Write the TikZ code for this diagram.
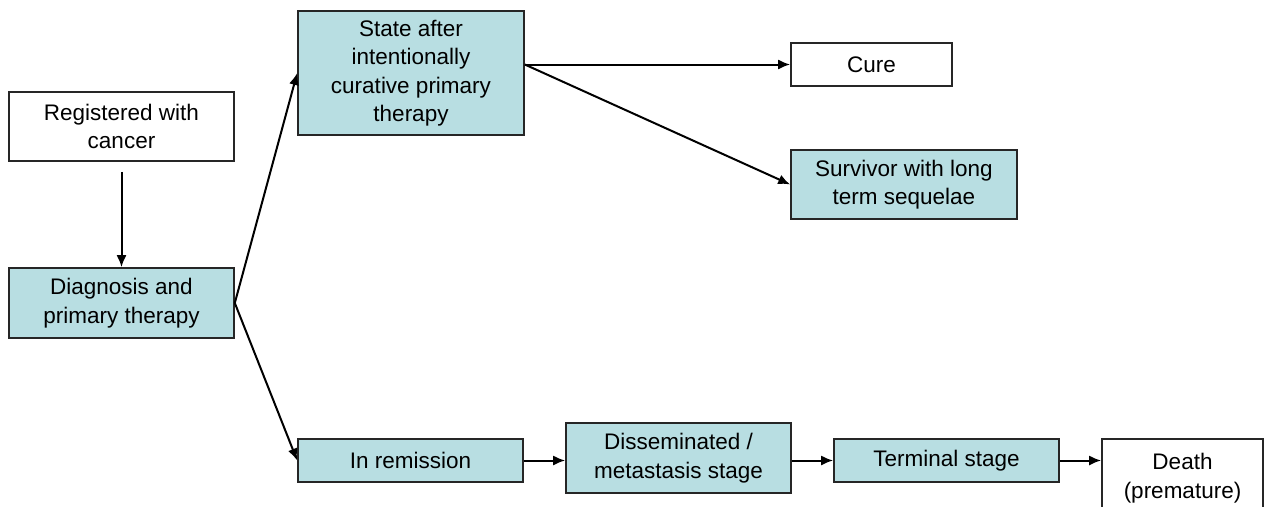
\documentclass[tikz,border=0pt]{standalone}
\usepackage{fontspec}
\setmainfont{Liberation Sans}
\usetikzlibrary{arrows.meta}
\definecolor{stagefill}{RGB}{184,222,226}
\begin{document}
\begin{tikzpicture}[>={Latex[length=12pt,width=10pt]},x=1pt,y=-1pt,line width=2pt,
	font=\fontsize{22.5}{28.5}\selectfont,
	box/.style={draw=black!85,line width=1.6pt,align=center,inner sep=0pt},
	plainbox/.style={box,fill=white},
	stagebox/.style={box,fill=stagefill}]
			\useasboundingbox (0,0) rectangle (1268,506);
			\node[plainbox,minimum width=225pt,minimum height=69pt] (reg) at (121.5,126.5) {Registered with\\cancer};
			\node[stagebox,minimum width=225pt,minimum height=70pt] (diag) at (121.5,303) {Diagnosis and\\primary therapy};
			\node[stagebox,minimum width=226pt,minimum height=124pt] (state) at (411,73) {State after\\intentionally\\curative primary\\therapy};
			\node[plainbox,minimum width=161pt,minimum height=43pt] (cure) at (871.5,64.5) {Cure};
			\node[stagebox,minimum width=226pt,minimum height=69pt] (surv) at (904,184.5) {Survivor with long\\term sequelae};
			\node[stagebox,minimum width=225pt,minimum height=43pt] (remis) at (410.5,460.5) {In remission};
			\node[stagebox,minimum width=225pt,minimum height=70pt] (diss) at (678.5,458) {Disseminated /\\metastasis stage};
			\node[stagebox,minimum width=225pt,minimum height=43pt] (term) at (946.5,460.5) {Terminal stage};
			\node[plainbox,minimum width=161pt,minimum height=78pt] (death) at (1182.5,478) {Death\\(premature)};
			\coordinate (split) at (state.east |- cure.west);
			\draw[->] ([yshift=-10pt]reg.south) -- (diag.north);
			\draw[->] (diag.east) -- (state.west);
			\draw[->] (diag.east) -- (remis.west);
			\draw[->] (split) -- (cure.west);
			\draw[->] (split) -- (surv.west);
			\draw[->] (remis.east) -- (diss.west |- remis.east);
			\draw[->] (diss.east |- term.west) -- (term.west);
			\draw[->] (term.east) -- (death.west |- term.east);
\end{tikzpicture}
\end{document}
